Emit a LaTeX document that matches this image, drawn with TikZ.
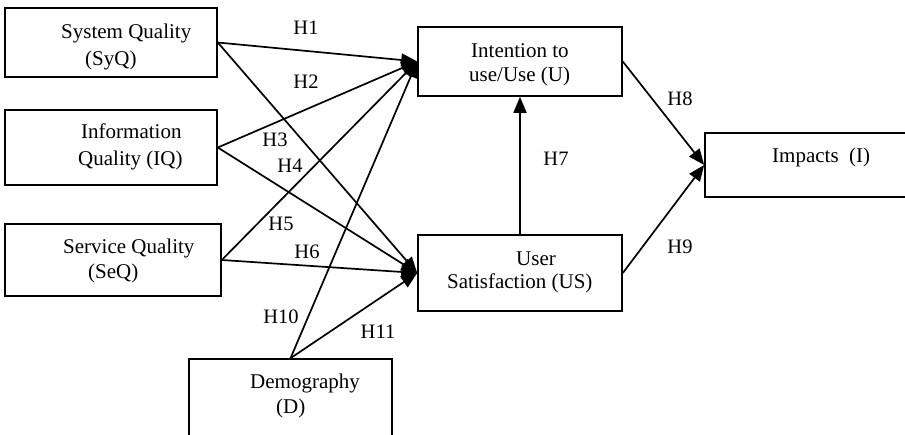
\documentclass[tikz,border=0pt]{standalone}
\usepackage{fontspec}
\setmainfont{Liberation Serif}
\usetikzlibrary{arrows.meta}
\begin{document}
\begin{tikzpicture}[x=1pt,y=-1pt,
  box/.style={draw,line width=1.6pt,rectangle,inner sep=0pt},
  txt/.style={anchor=base west,inner sep=0pt,font=\fontsize{21}{24}\selectfont},
  hlab/.style={inner sep=0pt,font=\fontsize{20.5}{24}\selectfont},
  arr/.style={line width=1.7pt,-{Triangle[length=16pt,width=13pt]}},
  ln/.style={line width=1.7pt}]
\useasboundingbox (0,0) rectangle (905,434);
% boxes
\node[box,minimum width=212pt,minimum height=69pt] (syq) at (111,42.5) {};
\node[box,minimum width=212pt,minimum height=75pt] (iq) at (111,147.5) {};
\node[box,minimum width=216pt,minimum height=72pt] (seq) at (113,260) {};
\node[box,minimum width=203pt,minimum height=90pt] (d) at (290.5,404) {};
\node[box,minimum width=204pt,minimum height=69pt] (u) at (520,61.5) {};
\node[box,minimum width=204pt,minimum height=76pt] (us) at (520,273) {};
\node[box,minimum width=220pt,minimum height=64pt] (imp) at (815,165) {};
% box texts
\node[txt] (t1a) at (61,38) {System Quality};
\node[txt] (t1b) at (85,65) {(SyQ)};
\node[txt] (t2a) at (81,138) {Information};
\node[txt] (t2b) at (78,165) {Quality (IQ)};
\node[txt] (t3a) at (63,253) {Service Quality};
\node[txt] (t3b) at (88,278) {(SeQ)};
\node[txt] (t4a) at (250,388) {Demography};
\node[txt] (t4b) at (276,413) {(D)};
\node[txt] (t5a) at (471,57) {Intention to};
\node[txt] (t5b) at (469,81) {use/Use (U)};
\node[txt] (t6a) at (516,265) {User};
\node[txt] (t6b) at (447,288) {Satisfaction (US)};
\node[txt] (t7a) at (772,162) {Impacts\ \ (I)};
% connectors
\draw[arr] (syq.east) -- (u.west);
\draw[arr] (syq.east) -- (us.west);
\draw[arr] (iq.east) -- (u.west);
\draw[arr] (iq.east) -- (us.west);
\draw[arr] (seq.east) -- (u.west);
\draw[arr] (seq.east) -- (us.west);
\draw[arr] (d.north) -- (u.west);
\draw[arr] (d.north) -- (us.west);
\draw[arr] (us.north) -- (u.south);
\draw[arr] (u.east) -- (imp.west);
\draw[arr] (us.east) -- (imp.west);
% labels
\node[hlab] (h1) at (306,28) {H1};
\node[hlab] (h2) at (306,82) {H2};
\node[hlab] (h3) at (275,140) {H3};
\node[hlab] (h4) at (290,166) {H4};
\node[hlab] (h5) at (281,224) {H5};
\node[hlab] (h6) at (307,252) {H6};
\node[hlab] (h10) at (281,317) {H10};
\node[hlab] (h11) at (378,332) {H11};
\node[hlab] (h7) at (556,159) {H7};
\node[hlab] (h8) at (680,99) {H8};
\node[hlab] (h9) at (680,247) {H9};
\end{tikzpicture}
\end{document}
